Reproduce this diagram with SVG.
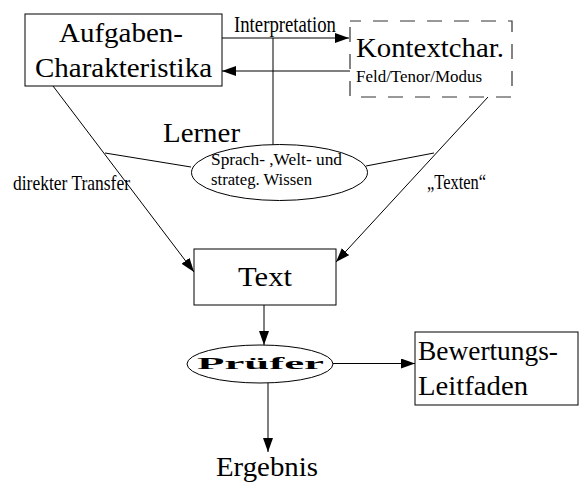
<svg xmlns="http://www.w3.org/2000/svg" width="579" height="482" viewBox="0 0 579 482">
<style>
  text { font-family: "Liberation Serif", "Times New Roman", serif; fill: #000; }
  .box { fill: #fff; stroke: #000; stroke-width: 1; }
  .dash { fill: #fff; stroke: #333; stroke-width: 1.2; stroke-dasharray: 15 12; stroke-dashoffset: 4; }
  .ell { fill: #fff; stroke: #000; stroke-width: 1; }
  .conn line { stroke: #000; stroke-width: 1; }
  .big { font-size: 28px; }
  .mid { font-size: 22px; }
  .sm { font-size: 16.5px; }
</style>
<defs>
  <marker id="arr" markerUnits="userSpaceOnUse" markerWidth="15" markerHeight="11" refX="14" refY="5" orient="auto">
    <path d="M0,0 L14,5 L0,10 z" fill="#000"/>
  </marker>
</defs>
<rect width="579" height="482" fill="#fff"/>

<g id="connectors" class="conn">
  <line x1="222" y1="38" x2="349" y2="38" marker-end="url(#arr)"/>
  <line x1="350" y1="71" x2="222" y2="71" marker-end="url(#arr)"/>
  <line x1="273" y1="38" x2="273" y2="145"/>
  <line x1="53" y1="86" x2="194" y2="272" marker-end="url(#arr)"/>
  <line x1="488" y1="97" x2="336" y2="262" marker-end="url(#arr)"/>
  <line x1="105" y1="153" x2="191" y2="167"/>
  <line x1="366" y1="166" x2="434" y2="153"/>
  <line x1="264" y1="305" x2="264" y2="345" marker-end="url(#arr)"/>
  <line x1="333" y1="363.5" x2="415" y2="363.5" marker-end="url(#arr)"/>
  <line x1="268" y1="383" x2="268" y2="452" marker-end="url(#arr)"/>
</g>

<g id="label-interpretation">
  <text x="234" y="32" font-size="23" textLength="102" lengthAdjust="spacingAndGlyphs">Interpretation</text>
</g>

<g id="aufgaben">
  <rect class="box" x="25" y="14" width="197" height="72"/>
  <text class="big" x="59" y="42" textLength="124" lengthAdjust="spacingAndGlyphs">Aufgaben-</text>
  <text class="big" x="35" y="77" textLength="177" lengthAdjust="spacingAndGlyphs">Charakteristika</text>
</g>

<g id="kontext">
  <rect class="dash" x="350" y="21" width="162" height="76"/>
  <text class="big" x="356" y="57" textLength="148" lengthAdjust="spacingAndGlyphs">Kontextchar.</text>
  <text class="sm" x="356" y="81.5" textLength="126" lengthAdjust="spacingAndGlyphs">Feld/Tenor/Modus</text>
</g>

<g id="lerner">
  <text class="big" x="163" y="142" textLength="77" lengthAdjust="spacingAndGlyphs">Lerner</text>
  <ellipse class="ell" cx="279.5" cy="172.5" rx="88" ry="28"/>
  <text class="sm" x="211" y="165" textLength="131" lengthAdjust="spacingAndGlyphs">Sprach- ,Welt-  und</text>
  <text class="sm" x="211" y="185" textLength="101" lengthAdjust="spacingAndGlyphs">strateg. Wissen</text>
</g>

<g id="label-direkt">
  <text class="mid" x="13" y="190" textLength="117" lengthAdjust="spacingAndGlyphs">direkter Transfer</text>
</g>

<g id="label-texten">
  <text class="mid" x="427" y="189" textLength="59" lengthAdjust="spacingAndGlyphs">„Texten“</text>
</g>

<g id="text">
  <rect class="box" x="194" y="249" width="142" height="56"/>
  <text class="big" x="238" y="286" textLength="54" lengthAdjust="spacingAndGlyphs">Text</text>
</g>

<g id="pruefer">
  <ellipse class="ell" cx="260" cy="364" rx="73" ry="19"/>
  <text x="197" y="368.5" font-size="17" font-weight="bold" textLength="127" lengthAdjust="spacingAndGlyphs">Prüfer</text>
</g>

<g id="bewertung">
  <rect class="box" x="415" y="332" width="163" height="73"/>
  <text class="big" x="418" y="360" textLength="140" lengthAdjust="spacingAndGlyphs">Bewertungs-</text>
  <text class="big" x="418" y="395" textLength="110" lengthAdjust="spacingAndGlyphs">Leitfaden</text>
</g>

<g id="ergebnis">
  <text class="big" x="216" y="476" textLength="102" lengthAdjust="spacingAndGlyphs">Ergebnis</text>
</g>
</svg>
